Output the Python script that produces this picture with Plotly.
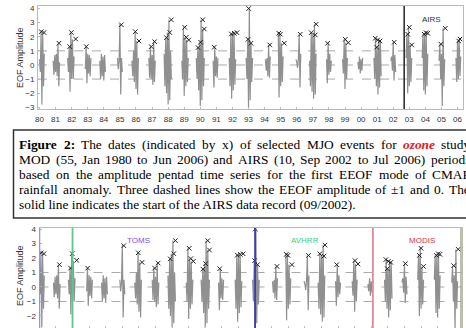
import plotly.graph_objects as go

# ---------------- data ----------------
cluster_start = [1980.0, 1980.85, 1981.75, 1982.85, 1983.75, 1984.85, 1985.75, 1986.8,
                 1987.75, 1988.85, 1989.75, 1990.8, 1991.8, 1992.85, 1994.05, 1994.85,
                 1995.95, 1996.8, 1997.85, 1998.85, 1999.8, 2000.8, 2001.85, 2002.8,
                 2003.8, 2004.85, 2005.9]
cluster_vals = [
    [0.4, -0.5, 2.3, -2.8, 2.2, -1.5, 0.8],
    [0.3, -0.7, 0.7, -0.5, 0.8, -0.8, 1.5, -1.5, 0.2],
    [0.5, -0.5, 1.3, -1.9, 2.3, -1.0, 1.8, -1.0, 0.6],
    [-0.3, 1.3, -1.3, 0.8, -0.6, 0.7, -0.8, 0.5],
    [0.3, -1.0, 0.8, -0.8, 0.6, -1.1, 0.7, -0.5],
    [0.5, -0.3, 0.3, 2.9, -2.1, 0.5, -0.5],
    [0.3, -0.8, 1.0, -1.2, 2.36, -1.7, 1.7, -2.1, 0.5],
    [0.5, -0.9, 1.3, -1.0, 0.7, -1.4, 1.65, -1.2, 0.3],
    [0.8, -1.5, 1.9, -2.0, 2.3, -2.8, 3.2, -2.5, 1.0, -1.0],
    [0.3, -1.0, 2.67, -2.2, 1.96, -1.5, 1.77, -1.2, 0.5],
    [0.5, -1.0, 1.23, -1.8, 1.61, -2.9, 3.2, -2.5, 2.55, -1.5, 0.5],
    [0.3, -1.6, 1.26, -0.8, 0.6, -0.9, 0.5],
    [0.5, -1.5, 2.2, -2.4, 2.25, -1.8, 2.29, -1.4, 0.4],
    [0.5, -1.0, 1.82, -3.0, 4.0, -2.5, 1.54, -1.2, 0.5],
    [0.4, -0.4, 0.5, -0.8, 1.42, -0.9, 0.6],
    [2.25, -2.3, 2.18, -1.5, 1.54, -1.2, 0.6],
    [0.4, 0.2, -0.2, 0.4, 2.18, -1.6, 0.8],
    [0.3, -1.5, 2.29, -1.9, 2.13, -2.4, 2.89, -2.1, 0.8],
    [0.4, -1.3, 1.54, -0.7, 0.8, -0.5, 0.3],
    [0.4, -0.6, 1.82, -1.7, 1.58, -1.0, 0.5],
    [0.2, -0.3, 0.6, -0.6, 0.4, -0.4, 0.5],
    [0.5, -1.0, 1.89, -1.5, 1.26, -2.1, 1.77, -1.6, 1.7, -0.8],
    [0.3, 0.6, -0.4, 1.61, -1.1, 0.7, -0.5],
    [0.5, 2.18, -2.0, 2.67, -1.5, 1.42, -1.2, 0.5],
    [0.5, 2.18, -1.8, 2.29, -2.1, 2.25, -1.5, 0.8],
    [0.3, 1.47, -1.0, 0.8, -2.9, 2.6, -1.5, 0.4],
    [0.5, -1.2, 1.7, -1.0, 1.84, -0.8, 0.6],
]
pentad_step = 0.05

event_year = [1980.11, 1980.28, 1981.21, 1981.88, 1981.98, 1982.25, 1982.91, 1985.09,
              1985.96, 1986.19, 1986.95, 1987.16, 1987.89, 1988.10, 1988.20, 1989.03,
              1989.13, 1989.28, 1989.86, 1990.02, 1990.15, 1990.25, 1990.87, 1991.93,
              1992.11, 1992.28, 1993.01, 1992.97, 1993.15, 1994.32, 1994.88, 1994.98,
              1995.22, 1996.22, 1996.90, 1997.15, 1997.21, 1997.92, 1999.02, 1999.20,
              2000.88, 2001.03, 2001.18, 2000.97, 2002.06, 2002.90, 2003.00, 2003.15,
              2003.93, 2004.04, 2004.14, 2004.97, 2005.24, 2006.07, 2006.15]
event_amp = [2.36, 2.30, 1.54, 1.30, 2.30, 1.84, 1.30, 2.85,
             2.36, 1.70, 1.30, 1.65, 1.94, 2.30, 3.20, 2.67,
             1.96, 1.77, 1.23, 1.61, 3.20, 2.55, 1.26, 2.20,
             2.25, 2.29, 4.00, 1.82, 1.54, 1.42, 2.25, 2.18,
             1.54, 2.18, 2.29, 2.13, 2.89, 1.54, 1.82, 1.58,
             1.89, 1.77, 1.70, 1.26, 1.61, 2.18, 2.67, 1.42,
             2.18, 2.29, 2.25, 1.47, 2.60, 1.70, 1.84]

year_ticks = list(range(1980, 2007))
year_labels = ["%02d" % (y % 100) for y in year_ticks]
amp_ticks = [-3, -2, -1, 0, 1, 2, 3, 4]

airs_start = 2002.68
bottom_lines = [1980.0, 1982.0, 1993.0, 2000.1, 2005.42]
bottom_line_colors = ["#7b6fe0", "#5cc890", "#3c3cb4", "#e58a96", "#a4a47a"]
bottom_labels = ["TOMS", "AVHRR", "MODIS"]
bottom_label_x = [1986.0, 1996.0, 2003.05]
bottom_label_colors = ["#7a4fe8", "#3fd07a", "#e0304a"]

# caption: lines of (word, style) ; style r=regular, b=bold, o=bold italic red
caption_lines = [
    [("Figure", "b"), ("2:", "b"), ("The", "r"), ("dates", "r"), ("(indicated", "r"),
     ("by", "r"), ("x)", "r"), ("of", "r"), ("selected", "r"), ("MJO", "r"),
     ("events", "r"), ("for", "r"), ("ozone", "o"), ("study", "r")],
    [(w, "r") for w in "MOD (55, Jan 1980 to Jun 2006) and AIRS (10, Sep 2002 to Jul 2006) periods".split()],
    [(w, "r") for w in "based on the amplitude pentad time series for the first EEOF mode of CMAP".split()],
    [(w, "r") for w in "rainfall anomaly. Three dashed lines show the EEOF amplitude of \u00b11 and 0. The".split()],
    [("solid line indicates the start of the AIRS data record (09/2002).", "r")],
]
caption_justified = [True, True, True, True, False]

# ---------------- text layout helpers (Times metrics, 1/1000 em) ----------------
REG = {' ': 250, 'a': 444, 'b': 500, 'c': 444, 'd': 500, 'e': 444, 'f': 333, 'g': 500,
       'h': 500, 'i': 278, 'j': 278, 'k': 500, 'l': 278, 'm': 778, 'n': 500, 'o': 500,
       'p': 500, 'q': 500, 'r': 333, 's': 389, 't': 278, 'u': 500, 'v': 500, 'w': 722,
       'x': 500, 'y': 500, 'z': 444, 'A': 722, 'B': 667, 'C': 667, 'D': 722, 'E': 611,
       'F': 556, 'G': 722, 'H': 722, 'I': 333, 'J': 389, 'K': 722, 'L': 611, 'M': 889,
       'N': 722, 'O': 722, 'P': 556, 'Q': 722, 'R': 667, 'S': 556, 'T': 611, 'U': 722,
       'V': 722, 'W': 944, 'X': 722, 'Y': 722, 'Z': 611, '(': 333, ')': 333, ',': 250,
       '.': 250, ':': 278, '/': 278, '\u00b1': 564}
BOLD = {'F': 611, 'i': 278, 'g': 500, 'u': 556, 'r': 444, 'e': 444, '2': 500, ':': 333}
BI = {'o': 500, 'z': 389, 'n': 556, 'e': 444}


def text_width(word, style, fs):
    table = BOLD if style == "b" else (BI if style == "o" else REG)
    total = 0
    for ch in word:
        if ch.isdigit() and style != "b":
            total += 500
        else:
            total += table.get(ch, REG.get(ch, 500))
    return total * fs / 1000.0


def styled(word, style):
    if style == "b":
        return "<b>%s</b>" % word
    if style == "o":
        return "<b><i><span style='color:#e8191c'>%s</span></i></b>" % word
    return word


# ---------------- build series ----------------
xs, ys = [], []
for s, vals in zip(cluster_start, cluster_vals):
    for i, v in enumerate(vals):
        xs.append(s + i * pentad_step)
        ys.append(v)
    xs.append(None)
    ys.append(None)

W, H = 466, 328
fig = go.Figure()

for ax in ["", "2"]:
    fig.add_trace(go.Scatter(x=xs, y=ys, mode="lines",
                             line=dict(color="#909090", width=1.2),
                             xaxis="x" + ax, yaxis="y" + ax, showlegend=False,
                             hoverinfo="skip"))
    fig.add_trace(go.Scatter(x=event_year, y=event_amp, mode="markers",
                             marker=dict(symbol="x-thin", size=4.5,
                                         line=dict(color="#222", width=1)),
                             xaxis="x" + ax, yaxis="y" + ax, showlegend=False,
                             hoverinfo="skip"))

axis_font = dict(family="Liberation Sans", size=8, color="#333")
title_font = dict(family="Liberation Sans", size=9, color="#333")
common_x = dict(showgrid=False, zeroline=False, showline=True, linecolor="#bbb",
                mirror=True, ticks="inside", ticklen=2, tickcolor="#bbb",
                tickvals=year_ticks, ticktext=year_labels, tickfont=axis_font,
                ticklabelstandoff=2, automargin=False)
common_y = dict(showgrid=False, zeroline=False, showline=True, linecolor="#bbb",
                mirror=True, ticks="inside", ticklen=2, tickcolor="#bbb",
                tickvals=amp_ticks, tickfont=axis_font, ticklabelstandoff=1,
                automargin=False)

fig.update_layout(
    width=W, height=H, margin=dict(l=0, r=0, t=0, b=0, pad=0, autoexpand=False),
    paper_bgcolor="white", plot_bgcolor="white",
    xaxis=dict(common_x, domain=[38 / W, 462.7 / W], range=[1979.907, 2006.32],
               anchor="y"),
    yaxis=dict(common_y, domain=[(H - 109) / H, (H - 6) / H], range=[-3.12, 4.18],
               anchor="x"),
    xaxis2=dict(common_x, domain=[39.5 / W, 461.7 / W], range=[1980.01, 2005.45],
                anchor="y2", showticklabels=False),
    yaxis2=dict(common_y, domain=[0, (H - 228) / H], range=[-2.83, 4.07], anchor="x2"),
)

shapes = []
for xr, yr in [("x", "y"), ("x2", "y2")]:
    for lvl in [-1, 0, 1]:
        shapes.append(dict(type="line", xref=xr + " domain", yref=yr, x0=0, x1=1,
                           y0=lvl, y1=lvl, line=dict(color="#aaa", width=1, dash="dash"),
                           layer="below"))
shapes.append(dict(type="line", xref="x", yref="y domain", x0=airs_start, x1=airs_start,
                   y0=0, y1=1, line=dict(color="#222", width=1.5)))
for xv, c in zip(bottom_lines, bottom_line_colors):
    shapes.append(dict(type="line", xref="x2", yref="y2 domain", x0=xv, x1=xv,
                       y0=0, y1=1, line=dict(color=c, width=1.8)))
# caption frame
shapes.append(dict(type="rect", xref="paper", yref="paper", x0=13.5 / W, x1=1.05,
                   y0=(H - 218) / H, y1=(H - 130) / H, line=dict(color="#333", width=1.5),
                   fillcolor="rgba(0,0,0,0)"))
fig.update_layout(shapes=shapes)

annotations = [
    dict(text="AIRS", xref="x", yref="y", x=2004.41, y=3.25, showarrow=False,
         font=dict(family="Liberation Sans", size=8, color="#333")),
]
for yc in [(H - 58) / H, (H - 276) / H]:
    annotations.append(dict(text="EOF Amplitude", xref="paper", yref="paper",
                            x=20 / W, y=yc, xanchor="center", yanchor="middle",
                            textangle=-90, showarrow=False, font=title_font))
for t, xv, c in zip(bottom_labels, bottom_label_x, bottom_label_colors):
    annotations.append(dict(text=t, xref="x2", yref="y2", x=xv, y=3.24, showarrow=False,
                            font=dict(family="Liberation Sans", size=8, color=c)))

FS = 13.4
text_left, text_right = 19.3, 470.0
line_y = [144.5, 159.5, 174.5, 189.5, 204.5]
for words, just, yv in zip(caption_lines, caption_justified, line_y):
    widths = [text_width(w, s, FS) for w, s in words]
    if just and len(words) > 1:
        gap = (text_right - text_left - sum(widths)) / (len(words) - 1)
    else:
        gap = REG[' '] * FS / 1000.0
    xpos = text_left
    for (w, s), wd in zip(words, widths):
        annotations.append(dict(text=styled(w, s), xref="paper", yref="paper", x=xpos / W,
                                y=(H - yv) / H, xanchor="left", yanchor="middle",
                                showarrow=False, borderpad=0, borderwidth=0,
                                font=dict(family="Liberation Serif", size=FS,
                                          color="black")))
        xpos += wd + gap
fig.update_layout(annotations=annotations)

fig.write_html("out.html", config={"displayModeBar": False},
               post_script="document.body.style.margin='0';")
